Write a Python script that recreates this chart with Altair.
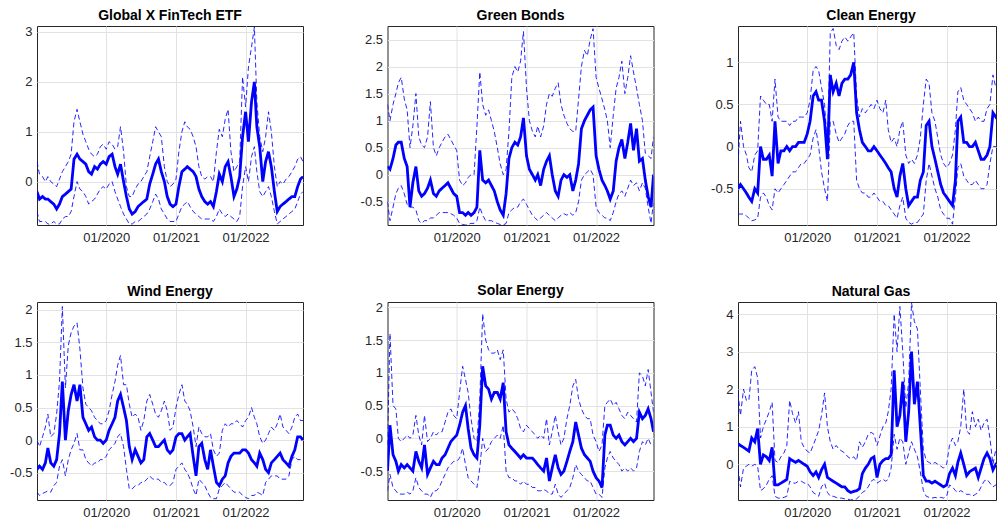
import altair as alt
import pandas as pd

# ---- x positions: semi-monthly sampling dates (1st and 16th), plus start/end ----
DATES = []
for yr in range(2019, 2023):
    for mo in range(1, 13):
        if yr == 2022 and mo > 10:
            break
        DATES.append(f"{yr}-{mo:02d}-01")
        DATES.append(f"{yr}-{mo:02d}-16")
DATES[0] = "2019-01-03"
DATES.append("2022-10-29")

TITLES = ["Global X FinTech ETF", "Green Bonds", "Clean Energy",
          "Wind Energy", "Solar Energy", "Natural Gas"]

# ---- Global X FinTech ETF ----
FINTECH_MID = [-0.2, -0.35, -0.3, -0.35, -0.35, -0.4, -0.45, -0.55, -0.45, -0.3, -0.25, -0.2,
               -0.15, 0.45, 0.55, 0.45, 0.4, 0.35, 0.2, 0.15, 0.3, 0.25, 0.35, 0.4,
               0.35, 0.5, 0.55, 0.3, 0.15, 0.35, 0.0, -0.3, -0.55, -0.65, -0.6, -0.5,
               -0.45, -0.4, -0.35, -0.05, 0.15, 0.35, 0.45, 0.2, 0.0, -0.3, -0.45, -0.5,
               -0.45, -0.1, 0.2, 0.25, 0.3, 0.25, 0.2, 0.1, -0.15, -0.3, -0.4, -0.45,
               -0.4, -0.5, -0.2, 0.15, 0.0, 0.3, 0.4, 0.1, -0.3, -0.15, 0.1, 0.9,
               1.4, 0.8, 1.6, 2.0, 1.1, 0.7, 0.0, 0.4, 0.6, 0.3, -0.2, -0.6,
               -0.5, -0.45, -0.4, -0.35, -0.3, -0.3, -0.1, 0.05,
               0.1]
FINTECH_UP = [0.4, 0.15, 0.1, 0.0, 0.1, 0.0, -0.05, -0.1, 0.05, 0.2, 0.3, 0.4,
              0.55, 1.2, 1.45, 1.2, 0.95, 0.8, 0.65, 0.55, 0.5, 0.55, 0.7, 0.75,
              0.65, 0.8, 0.75, 0.65, 0.7, 1.1, 0.6, -0.1, -0.3, -0.3, -0.15, -0.05,
              0.0, 0.1, 0.2, 0.5, 0.8, 1.1, 1.0, 0.9, 0.3, 0.0, -0.1, -0.05,
              0.05, 0.6, 1.0, 1.2, 1.1, 1.05, 0.9, 0.7, 0.3, 0.1, 0.05, 0.1,
              0.1, 0.0, 0.6, 1.05, 0.9, 1.25, 1.45, 0.6, 0.2, 0.3, 0.4, 2.1,
              1.5, 2.3, 2.7, 3.1, 1.6, 0.9, 0.6, 0.9, 1.4, 1.0, 0.3, -0.1,
              0.0, -0.05, 0.05, 0.1, 0.2, 0.3, 0.45, 0.5,
              0.4]
FINTECH_LO = [-0.6, -0.8, -0.8, -0.8, -0.85, -0.85, -0.8, -0.85, -0.85, -0.75, -0.7, -0.7,
              -0.6, -0.3, 0.0, -0.15, -0.2, -0.3, -0.45, -0.4, -0.35, -0.25, -0.15, -0.1,
              -0.15, -0.05, 0.0, -0.2, -0.35, -0.5, -0.65, -0.75, -0.85, -0.85, -0.8, -0.8,
              -0.75, -0.7, -0.65, -0.55, -0.4, -0.25, -0.35, -0.55, -0.65, -0.75, -0.8, -0.8,
              -0.8, -0.65, -0.5, -0.45, -0.4, -0.5, -0.6, -0.65, -0.7, -0.75, -0.75, -0.75,
              -0.75, -0.8, -0.7, -0.55, -0.65, -0.7, -0.65, -0.7, -0.75, -0.8, -0.7, -0.1,
              0.3, 0.0, 0.5, 0.7, 0.2, -0.2, -0.3, -0.2, -0.1, -0.3, -0.6, -0.85,
              -0.8, -0.75, -0.7, -0.65, -0.6, -0.55, -0.4, -0.25,
              -0.2]

# ---- Green Bonds ----
GREEN_MID = [0.15, 0.1, 0.3, 0.55, 0.6, 0.6, 0.3, 0.15, -0.6, -0.15, 0.15, -0.3,
             -0.4, -0.35, -0.25, -0.1, -0.35, -0.4, -0.3, -0.25, -0.2, -0.15, -0.25, -0.35,
             -0.4, -0.7, -0.7, -0.75, -0.7, -0.75, -0.7, -0.6, 0.45, -0.1, -0.15, -0.1,
             -0.2, -0.3, -0.5, -0.65, -0.75, -0.35, 0.3, 0.5, 0.6, 0.55, 0.7, 1.05,
             0.35, 0.1, 0.0, -0.1, 0.0, -0.2, 0.1, 0.25, 0.35, 0.0, -0.3, -0.4,
             -0.1, 0.0, -0.05, 0.0, -0.3, -0.1, 0.2, 0.85, 1.0, 1.1, 1.2, 1.25,
             0.35, 0.1, -0.1, -0.2, -0.3, -0.45, -0.3, 0.25, 0.5, 0.65, 0.3, 0.6,
             0.95, 0.45, 0.85, 0.25, 0.3, -0.1, -0.4, -0.6,
             0.0]
GREEN_UP = [1.3, 1.0, 1.3, 1.5, 1.7, 1.8, 1.4, 1.2, 0.5, 0.9, 1.5, 0.7,
            0.55, 0.5, 0.7, 1.35, 0.5, 0.35, 0.5, 0.6, 0.7, 0.75, 0.65, 0.55,
            0.45, -0.1, -0.2, -0.15, -0.05, 0.0, 0.0, 0.9, 1.9, 1.3, 1.1, 1.2,
            1.0, 0.8, 0.5, 0.2, 0.0, 0.1, 0.8, 1.8, 2.0, 1.9, 2.1, 2.65,
            1.6, 1.0, 0.8, 0.7, 0.9, 0.7, 0.9, 1.3, 1.5, 1.45, 1.6, 1.7,
            1.3, 1.1, 0.95, 0.85, 0.8, 0.8, 1.4, 2.0, 2.3, 2.2, 2.5, 2.7,
            1.8, 1.6, 1.4, 1.2, 1.0, 0.5, 1.1, 1.6, 1.8, 2.1, 1.5, 1.8,
            2.2, 1.9, 1.6, 1.3, 1.0, 0.4, 0.35, 0.3,
            0.7]
GREEN_LO = [-0.5, -0.85, -0.6, -0.35, -0.25, -0.2, -0.35, -0.55, -0.6, -0.6, -0.65, -0.85,
            -0.9, -0.85, -0.85, -0.8, -0.8, -0.75, -0.7, -0.7, -0.7, -0.7, -0.72, -0.75,
            -0.8, -0.9, -0.92, -0.93, -0.92, -0.9, -0.9, -0.85, -0.6, -0.75, -0.85, -0.85,
            -0.85, -0.88, -0.9, -0.92, -0.93, -0.9, -0.7, -0.65, -0.6, -0.6, -0.5, -0.45,
            -0.55, -0.65, -0.75, -0.8, -0.85, -0.8, -0.75, -0.7, -0.75, -0.8, -0.85, -0.8,
            -0.75, -0.72, -0.75, -0.7, -0.75, -0.7, -0.5, -0.1, 0.0, 0.05, 0.1, 0.0,
            -0.6, -0.7, -0.75, -0.8, -0.8, -0.85, -0.7, -0.5, -0.35, -0.3, -0.4, -0.25,
            -0.1, -0.2, -0.15, -0.3, -0.15, -0.25, -0.6, -0.9,
            -0.5]

# ---- Clean Energy ----
CLEAN_MID = [-0.5, -0.45, -0.5, -0.55, -0.6, -0.65, -0.5, -0.55, 0.0, -0.15, -0.15, -0.1,
             -0.35, 0.3, -0.2, -0.05, -0.05, 0.0, -0.05, 0.0, 0.0, 0.05, 0.05, 0.05,
             0.15, 0.3, 0.6, 0.65, 0.55, 0.55, 0.3, -0.15, 0.85, 0.65, 0.75, 0.6,
             0.75, 0.8, 0.8, 0.85, 1.0, 0.4, 0.2, 0.05, 0.0, -0.05, -0.05, 0.0,
             -0.05, -0.1, -0.15, -0.2, -0.25, -0.3, -0.5, -0.6, -0.35, -0.2, -0.5, -0.7,
             -0.65, -0.6, -0.6, -0.4, -0.3, 0.25, 0.3, 0.0, -0.15, -0.3, -0.45, -0.55,
             -0.6, -0.65, -0.7, -0.4, 0.3, 0.35, 0.05, 0.05, 0.0, 0.0, 0.05, -0.05,
             -0.15, -0.15, -0.1, 0.0, 0.4, 0.35, 0.3, 0.3,
             0.3]
CLEAN_UP = [-0.2, 0.3, 0.0, -0.1, -0.25, -0.3, -0.1, -0.05, 0.6, 0.55, 0.5, 0.5,
            0.3, 0.8, 0.35, 0.3, 0.3, 0.3, 0.25, 0.3, 0.3, 0.35, 0.35, 0.35,
            0.4, 0.55, 0.9, 0.95, 0.9, 0.7, 0.5, 0.0, 1.35, 1.4, 1.2, 1.15,
            1.25, 1.3, 1.25, 1.3, 1.35, 0.6, 0.35, 0.45, 0.4, 0.45, 0.5, 0.45,
            0.55, 0.45, 0.4, 0.55, 0.2, 0.05, 0.1, 0.0, 0.2, 0.3, -0.1, -0.2,
            -0.15, -0.2, -0.1, 0.1, 0.5, 0.8, 0.75, 0.4, 0.3, 0.1, -0.1, -0.2,
            -0.25, -0.2, -0.1, 0.2, 0.65, 0.7, 0.55, 0.5, 0.45, 0.4, 0.3, 0.35,
            0.3, 0.3, 0.45, 0.5, 0.85, 0.7, 0.75, 0.7,
            0.7]
CLEAN_LO = [-0.8, -0.8, -0.8, -0.82, -0.85, -0.88, -0.87, -0.85, -0.6, -0.55, -0.6, -0.7,
            -0.75, -0.5, -0.55, -0.5, -0.45, -0.4, -0.35, -0.3, -0.3, -0.25, -0.2, -0.2,
            -0.15, -0.1, 0.1, 0.2, 0.0, -0.3, -0.5, -0.65, 0.3, 0.3, 0.15, 0.05,
            0.1, 0.15, 0.25, 0.3, 0.3, -0.4, -0.5, -0.55, -0.55, -0.6, -0.6, -0.55,
            -0.6, -0.65, -0.65, -0.7, -0.7, -0.75, -0.8, -0.85, -0.7, -0.6, -0.85, -0.9,
            -0.92, -0.9, -0.9, -0.85, -0.8, -0.4, -0.2, -0.35, -0.5, -0.6, -0.75, -0.8,
            -0.85, -0.85, -0.92, -0.6, -0.25, -0.2, -0.35, -0.4, -0.45, -0.45, -0.4, -0.45,
            -0.5, -0.5, -0.45, -0.2, 0.0, 0.0, -0.05, 0.0,
            0.0]

# ---- Wind Energy ----
WIND_MID = [-0.45, -0.4, -0.45, -0.35, -0.12, -0.35, -0.4, -0.3, 0.1, 0.9, 0.0, 0.45,
            0.7, 0.85, 0.6, 0.85, 0.35, 0.25, 0.15, 0.2, 0.05, 0.0, 0.0, -0.05,
            0.0, 0.15, 0.25, 0.35, 0.6, 0.7, 0.5, 0.3, -0.1, -0.3, -0.15, -0.25,
            -0.35, -0.3, 0.05, 0.1, 0.0, -0.1, -0.1, -0.05, 0.0, -0.15, -0.2, -0.15,
            0.05, 0.1, 0.1, 0.0, 0.05, 0.1, -0.25, -0.55, -0.1, -0.05, -0.3, -0.45,
            -0.15, -0.4, -0.65, -0.7, -0.6, -0.55, -0.35, -0.25, -0.2, -0.2, -0.2, -0.15,
            -0.15, -0.2, -0.3, -0.35, -0.4, -0.2, -0.3, -0.45, -0.5, -0.35, -0.3, -0.25,
            -0.2, -0.3, -0.35, -0.4, -0.25, -0.15, 0.05, 0.05,
            0.0]
WIND_UP = [0.0, -0.1, 0.05, 0.2, 0.4, 0.05, 0.1, 0.4, 0.9, 2.05, 0.8, 1.45,
           1.65, 1.75, 1.8, 1.4, 0.8, 0.55, 0.5, 0.45, 0.35, 0.3, 0.25, 0.25,
           0.3, 0.45, 0.7, 0.9, 1.15, 1.3, 0.85, 0.85, 0.55, 0.35, 0.4, 0.35,
           0.15, 0.3, 0.6, 0.7, 0.55, 0.4, 0.35, 0.45, 0.6, 0.45, 0.15, 0.2,
           0.5, 0.7, 0.85, 0.6, 0.55, 0.45, 0.2, -0.1, 0.2, 0.1, 0.05, 0.05,
           0.1, -0.15, -0.25, -0.2, 0.15, 0.25, 0.2, 0.25, 0.25, 0.3, 0.25, 0.2,
           0.3, 0.35, 0.5, 0.35, 0.25, 0.05, -0.05, 0.0, 0.1, 0.2, 0.15, 0.25,
           0.4, 0.2, 0.15, 0.1, 0.2, 0.35, 0.4, 0.3,
           0.3]
WIND_LO = [-0.8, -0.85, -0.82, -0.8, -0.78, -0.8, -0.7, -0.65, -0.4, -0.3, -0.55, -0.3,
           -0.15, -0.05, 0.1, -0.15, -0.15, -0.3, -0.35, -0.4, -0.35, -0.35, -0.3, -0.3,
           -0.25, -0.15, -0.1, -0.05, 0.05, 0.1, -0.1, -0.45, -0.75, -0.75, -0.7, -0.7,
           -0.65, -0.65, -0.6, -0.55, -0.6, -0.6, -0.6, -0.65, -0.65, -0.7, -0.7, -0.65,
           -0.45, -0.4, -0.35, -0.45, -0.5, -0.6, -0.75, -0.85, -0.6, -0.65, -0.7, -0.8,
           -0.88, -0.9, -0.9, -0.75, -0.7, -0.65, -0.7, -0.75, -0.8, -0.8, -0.8, -0.85,
           -0.88, -0.9, -0.85, -0.85, -0.8, -0.82, -0.85, -0.65, -0.6, -0.55, -0.55, -0.55,
           -0.6, -0.6, -0.6, -0.55, -0.3, -0.25, -0.3, -0.3,
           -0.3]

# ---- Solar Energy ----
SOLAR_MID = [-0.5, 0.2, -0.25, -0.35, -0.5, -0.4, -0.45, -0.4, -0.45, -0.5, -0.2, -0.35,
             -0.45, -0.1, -0.55, -0.45, -0.35, -0.4, -0.4, -0.3, -0.25, -0.15, -0.05, 0.0,
             0.05, 0.2, 0.4, 0.5, 0.15, -0.15, -0.25, -0.3, 0.2, 1.1, 0.8, 0.75,
             0.6, 0.7, 0.7, 0.6, 0.85, 0.1, -0.1, -0.15, -0.2, -0.25, -0.3, -0.25,
             -0.3, -0.3, -0.3, -0.35, -0.4, -0.45, -0.5, -0.3, -0.65, -0.45, -0.25, -0.45,
             -0.55, -0.5, -0.35, -0.2, -0.05, 0.25, 0.05, -0.15, -0.25, -0.3, -0.35, -0.5,
             -0.6, -0.65, -0.75, 0.05, 0.2, 0.2, 0.05, 0.0, 0.05, -0.05, -0.1, -0.05,
             0.0, -0.05, 0.0, 0.4, 0.3, 0.35, 0.45, 0.3,
             0.1]
SOLAR_UP = [-0.1, 1.6, 0.5, 0.45, 0.0, -0.05, 0.0, 0.05, 0.0, 0.05, 0.35, 0.05,
            -0.1, 0.35, -0.05, 0.0, 0.1, 0.05, 0.1, 0.1, 0.25, 0.4, 0.45, 0.35,
            0.3, 0.7, 1.1, 0.9, 0.7, 0.3, 0.0, -0.05, 0.6, 1.9, 1.5, 1.35,
            1.3, 1.3, 1.35, 1.2, 1.35, 0.6, 0.4, 0.45, 0.4, 0.3, 0.15, 0.1,
            0.2, 0.15, 0.1, 0.05, 0.0, 0.05, 0.0, 0.3, -0.1, 0.1, 0.35, 0.1,
            -0.1, 0.0, 0.3, 0.5, 0.8, 0.9, 0.6, 0.45, 0.35, 0.3, 0.3, 0.05,
            -0.05, -0.2, -0.1, 0.5, 0.55, 0.6, 0.5, 0.55, 0.45, 0.35, 0.3, 0.4,
            0.35, 0.3, 0.25, 1.0, 0.95, 0.8, 1.05, 0.7,
            0.4]
SOLAR_LO = [-0.8, -0.55, -0.75, -0.8, -0.85, -0.85, -0.85, -0.82, -0.85, -0.8, -0.6, -0.75,
            -0.8, -0.85, -0.85, -0.9, -0.8, -0.8, -0.75, -0.65, -0.55, -0.45, -0.4, -0.35,
            -0.35, -0.3, -0.15, -0.4, -0.6, -0.65, -0.7, -0.75, -0.45, 0.0, -0.2, -0.15,
            -0.05, 0.0, 0.05, 0.0, 0.2, -0.5, -0.6, -0.6, -0.65, -0.65, -0.7, -0.65,
            -0.7, -0.7, -0.75, -0.75, -0.8, -0.8, -0.78, -0.8, -0.85, -0.85, -0.7, -0.85,
            -0.9, -0.85, -0.8, -0.75, -0.6, -0.4, -0.5, -0.55, -0.6, -0.65, -0.65, -0.75,
            -0.85, -0.85, -0.9, -0.45, -0.3, -0.2, -0.3, -0.35, -0.4, -0.5, -0.45, -0.5,
            -0.45, -0.5, -0.45, -0.2, -0.05, -0.1, 0.0, -0.1,
            -0.1]

# ---- Natural Gas ----
GAS_MID = [0.55, 0.5, 0.45, 0.4, 0.35, 0.7, 0.6, 0.95, 0.0, 0.25, 0.2, 0.1,
           0.45, -0.55, -0.55, -0.5, -0.45, -0.4, 0.15, 0.1, 0.05, 0.1, 0.05, 0.0,
           -0.05, -0.2, -0.3, -0.2, -0.35, -0.15, 0.0, -0.35, -0.4, -0.45, -0.5, -0.55,
           -0.6, -0.6, -0.7, -0.75, -0.72, -0.7, -0.65, -0.25, -0.1, 0.0, 0.15, 0.2,
           -0.35, 0.0, 0.1, 0.15, 0.15, 0.25, 2.5, 1.0, 1.3, 2.2, 0.6, 1.4,
           3.0, 1.6, 2.2, 1.0, -0.3, -0.45, -0.45, -0.5, -0.45, -0.5, -0.55, -0.6,
           -0.55, -0.25, -0.1, -0.3, 0.05, 0.3, 0.0, -0.3, -0.2, -0.15, -0.1, -0.35,
           -0.1, 0.15, 0.3, 0.15, -0.15, 0.0, -0.05, 0.0,
           0.0]
GAS_UP = [1.9, 1.3, 2.0, 1.7, 1.7, 2.5, 2.6, 2.3, 0.7, 1.0, 1.2, 1.4,
          1.65, 0.1, 0.05, 0.2, 0.3, 0.5, 1.7, 1.35, 1.1, 1.4, 0.6, 0.45,
          0.35, 0.3, 0.5, 0.7, 0.9, 1.3, 1.9, 1.0, 0.6, 0.4, 0.5, 0.4,
          0.35, 0.3, 0.2, 0.15, 0.2, 0.1, 0.6, 0.45, 0.6, 0.8, 0.85, 0.8,
          0.5, 0.75, 1.0, 1.1, 1.4, 2.0, 4.0, 3.0, 4.2, 3.0, 1.5, 2.2,
          4.3, 3.8, 3.6, 2.0, 0.4, 0.1, 0.05, 0.0, 0.05, 0.0, -0.05, -0.1,
          0.0, 0.5, 0.7, 0.5, 0.6, 1.0, 2.0, 0.9, 0.8, 1.4, 1.0, 1.2,
          0.9, 1.1, 1.2, 0.7, 0.0, 0.4, 0.5, 0.5,
          0.5]
GAS_LO = [-0.1, -0.6, -0.1, -0.05, 0.0, -0.05, 0.0, -0.05, -0.7, -0.65, -0.55, -0.4,
          -0.3, -0.85, -0.9, -0.9, -0.88, -0.85, -0.45, -0.5, -0.5, -0.45, -0.45, -0.5,
          -0.5, -0.6, -0.75, -0.8, -0.85, -0.6, -0.5, -0.75, -0.85, -0.85, -0.88, -0.9,
          -0.9, -0.92, -0.93, -0.95, -0.93, -0.92, -0.85, -0.75, -0.7, -0.6, -0.45, -0.4,
          -0.5, -0.45, -0.4, -0.45, -0.4, -0.1, 0.8, 0.4, 0.7, 0.6, 0.0, 0.3,
          0.6, 0.4, 0.2, -0.2, -0.7, -0.85, -0.88, -0.9, -0.88, -0.9, -0.88, -0.9,
          -0.85, -0.55, -0.6, -0.7, -0.75, -0.7, -0.75, -0.8, -0.8, -0.85, -0.8, -0.75,
          -0.6, -0.45, -0.4, -0.5, -0.6, -0.55, -0.5, -0.5,
          -0.5]

Y_DOMAINS = [[-0.87, 3.12], [-0.93, 2.75], [-0.93, 1.43],
             [-0.92, 2.12], [-0.94, 2.08], [-0.95, 4.32]]
Y_TICKS = [[0, 1, 2, 3], [-0.5, 0, 0.5, 1, 1.5, 2, 2.5], [-0.5, 0, 0.5, 1],
           [-0.5, 0, 0.5, 1, 1.5, 2], [-0.5, 0, 0.5, 1, 1.5, 2], [0, 1, 2, 3, 4]]
SERIES = [(FINTECH_MID, FINTECH_UP, FINTECH_LO), (GREEN_MID, GREEN_UP, GREEN_LO),
          (CLEAN_MID, CLEAN_UP, CLEAN_LO), (WIND_MID, WIND_UP, WIND_LO),
          (SOLAR_MID, SOLAR_UP, SOLAR_LO), (GAS_MID, GAS_UP, GAS_LO)]

N = len(DATES)
for trio in SERIES:
    for s in trio:
        assert len(s) == N, (len(s), N)

BLUE = "#0000ff"
X_START = alt.DateTime(year=2019, month=1, date=3)
X_END_FULL = alt.DateTime(year=2022, month=10, date=29)
X_END_CUT = alt.DateTime(year=2022, month=9, date=17)
X_TICKS = [alt.DateTime(year=y, month=1, date=1) for y in (2020, 2021, 2022)]
LABEL_EXPR = "datum.value < 0 ? '-' + format(-datum.value, '~g') : format(datum.value, '~g')"


def panel(i, width, height):
    mid, up, lo = SERIES[i]
    df = pd.DataFrame({
        "date": DATES * 3,
        "value": mid + up + lo,
        "series": ["mid"] * N + ["upper"] * N + ["lower"] * N,
    })
    cut = i in (2, 5)
    x_end = X_END_CUT if cut else X_END_FULL
    x = alt.X("date:T",
              scale=alt.Scale(domain=[X_START, x_end]),
              axis=alt.Axis(values=X_TICKS, format="%m/%Y", title=None))
    y = alt.Y("value:Q",
              scale=alt.Scale(domain=Y_DOMAINS[i], nice=False, zero=False),
              axis=alt.Axis(values=Y_TICKS[i], labelExpr=LABEL_EXPR, title=None))
    base = alt.Chart(df)
    bands = base.transform_filter("datum.series != 'mid'").mark_line(
        color=BLUE, strokeWidth=1, strokeDash=[5, 3], opacity=0.85, clip=True
    ).encode(x=x, y=y, detail="series:N")
    center = base.transform_filter("datum.series == 'mid'").mark_line(
        color=BLUE, strokeWidth=2.8, clip=True
    ).encode(x=x, y=y)
    title = alt.Title(TITLES[i], dx=4) if cut else alt.Title(TITLES[i])
    return alt.layer(bands, center).properties(
        width=width, height=height, title=title)


panels = [panel(0, 266, 199), panel(1, 266, 199), panel(2, 258, 199),
          panel(3, 266, 198), panel(4, 266, 198), panel(5, 258, 198)]

chart = alt.concat(
    *panels, columns=3, spacing={"row": 77, "column": 84.5}, bounds="flush"
).properties(
    padding={"left": 9, "top": 8, "right": 0, "bottom": 0}
).configure_view(
    stroke="#262626", strokeWidth=1
).configure_axis(
    grid=True, gridColor="#e2e2e2", gridWidth=1, domain=False, ticks=False,
    tickSize=0, labelFont="Liberation Sans", labelFontSize=13,
    labelColor="#262626"
).configure_axisX(
    labelPadding=6
).configure_axisY(
    labelPadding=5
).configure_title(
    font="Liberation Sans", fontSize=14, fontWeight="bold", color="#000000",
    anchor="middle", offset=3, baseline="alphabetic"
)

chart.save("out.html", embed_options={"renderer": "svg", "actions": False})
